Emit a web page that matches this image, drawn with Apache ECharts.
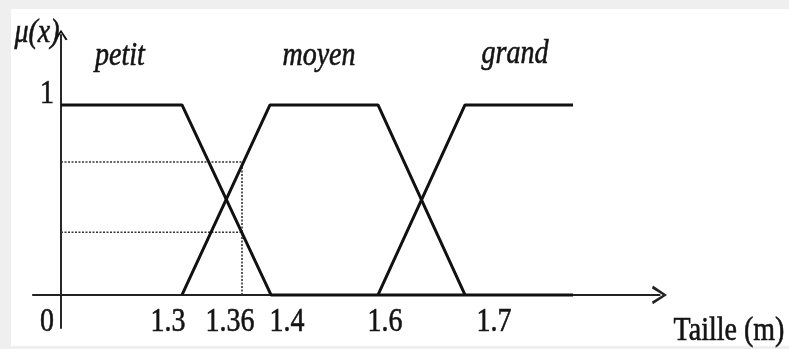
<!DOCTYPE html>
<html><head><meta charset="utf-8">
<script src="https://cdn.jsdelivr.net/npm/echarts@6/dist/echarts.min.js"></script>
<style>html,body{margin:0;padding:0;background:#efefef;}#c{width:789px;height:349px;}</style>
</head><body><div id="c"></div>
<script>
// Schematic abscissa of the fuzzy sets (drawing units along "Taille", y-axis at 0)
const petitX = [0, 121, 210, 512];
const petitY = [1, 1, 0, 0];
const moyenX = [121, 209, 317, 404];
const moyenY = [0, 1, 1, 0];
const grandX = [317, 404, 512];
const grandY = [0, 1, 1];
const guideX = 181;              // position of x = 1.36
const guideLevels = [0.7, 0.33]; // membership degrees read at 1.36
const xTickLabels = ['0', '1.3', '1.36', '1.4', '1.6', '1.7'];
const xTickAt = [-14, 107, 169, 226, 324, 433];
const yTickLabels = ['1'];
const yTickAt = [1];
const setNames = ['petit', 'moyen', 'grand'];
const setLabelAt = [[59, 1.26], [258, 1.26], [454, 1.27]];

const zip = (xs, ys) => xs.map((x, i) => [x, ys[i]]);
const FONT = 'Liberation Serif';
const FS = 28, SY = 1.22;
const arrowPath = 'path://M0 15 L10 0 L20 15 L17 16 L10 4.6 L3 16 Z';

const chart = echarts.init(document.getElementById('c'), null, {renderer: 'canvas'});
const lineStyle = {color: '#111', width: 3};
const series = [
  {name: 'petit', type: 'line', data: zip(petitX, petitY)},
  {name: 'moyen', type: 'line', data: zip(moyenX, moyenY)},
  {name: 'grand', type: 'line', data: zip(grandX, grandY)}
].map(s => Object.assign(s, {showSymbol: false, symbol: 'none', lineStyle, z: 3, animation: false, silent: true}));
guideLevels.forEach(l => series.push({type: 'line', data: [[0, l], [guideX, l]], symbol: 'none',
  lineStyle: {color: '#333', width: 1.6, type: [2, 1.5]}, z: 2, animation: false, silent: true}));
series.push({type: 'line', data: [[guideX, 0], [guideX, Math.max(...guideLevels)]], symbol: 'none',
  lineStyle: {color: '#333', width: 1.6, type: [2, 1.5]}, z: 2, animation: false, silent: true});

chart.setOption({
  animation: false,
  backgroundColor: 'transparent',
  grid: {left: 33, right: 129.5, top: 35, bottom: 21, containLabel: false, outerBoundsMode: 'none'},
  xAxis: {type: 'value', min: -28, max: 598.5,
    axisLine: {onZero: true, symbol: ['none', arrowPath], symbolSize: [20, 15], lineStyle: {color: '#222', width: 2.2}},
    axisTick: {show: false}, axisLabel: {show: false}, splitLine: {show: false}},
  yAxis: {type: 'value', min: -0.1737, max: 1.368,
    axisLine: {onZero: true, symbol: ['none', arrowPath], symbolSize: [13, 14], lineStyle: {color: '#111', width: 1.8}},
    axisTick: {show: false}, axisLabel: {show: false}, splitLine: {show: false}},
  series
});

function txt(text, x, y, italic) {
  return {type: 'text', x, y, scaleY: SY, z: 10,
    style: {text, fill: '#141414', stroke: '#141414', lineWidth: 0.5,
      font: (italic ? 'italic ' : '') + FS + 'px "' + FONT + '"',
      fontFamily: FONT, fontSize: FS, fontStyle: italic ? 'italic' : 'normal',
      align: 'center', textAlign: 'center', verticalAlign: 'middle', textVerticalAlign: 'middle'}};
}
const P = v => chart.convertToPixel({gridIndex: 0}, v);
const g = [{type: 'rect', z: -10, shape: {x: 11, y: 9, width: 778, height: 337}, style: {fill: '#ffffff'}}];
xTickLabels.forEach((t, i) => { const p = P([xTickAt[i], 0]); g.push(txt(t, p[0], p[1] + 27, false)); });
yTickLabels.forEach((t, i) => { const p = P([-14, yTickAt[i]]); g.push(txt(t, p[0], p[1] - 11, false)); });
setNames.forEach((t, i) => { const p = P(setLabelAt[i]); g.push(txt(t, p[0], p[1], true)); });
g.push(txt('\u03bc(x)', 37, 33, true));
g.push(txt('Taille (m)', 729, 331, false));
chart.setOption({graphic: g});
</script></body></html>
